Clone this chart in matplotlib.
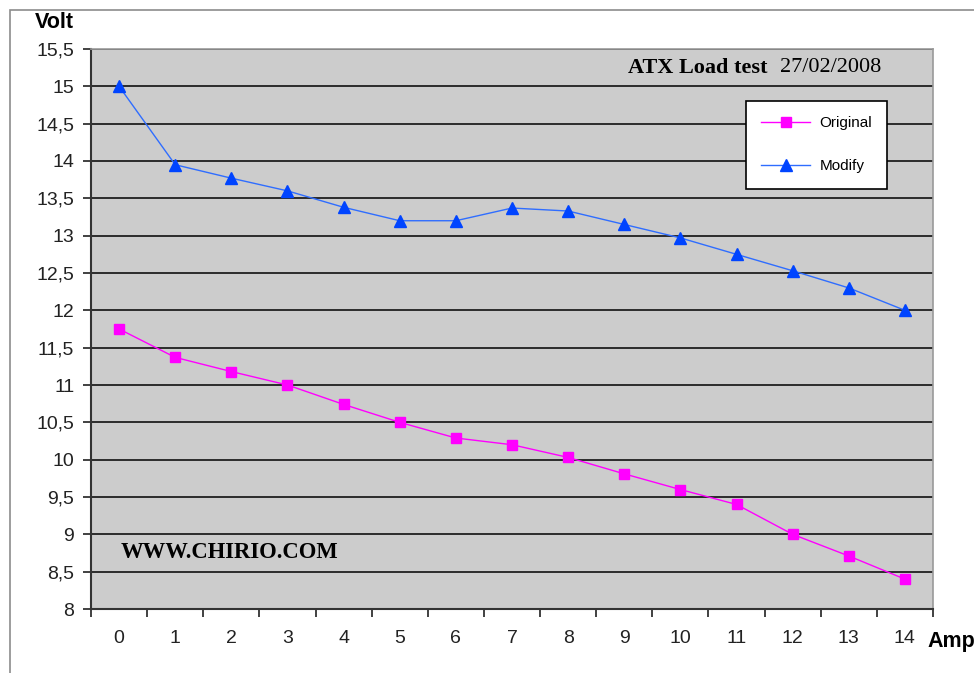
import matplotlib
matplotlib.use("Agg")
from matplotlib import pyplot as plt
from matplotlib.ticker import FuncFormatter, MultipleLocator
from matplotlib.patches import Rectangle

plt.rcParams["font.family"] = ["Liberation Sans", "DejaVu Sans"]

# data
amps = list(range(15))
original = [11.75, 11.37, 11.18, 11.0, 10.74, 10.5, 10.29, 10.2, 10.03, 9.81, 9.6, 9.4, 9.0, 8.71, 8.4]
modify = [15.0, 13.95, 13.77, 13.6, 13.38, 13.2, 13.2, 13.37, 13.33, 13.15, 12.97, 12.75, 12.53, 12.3, 12.0]

W, H = 974, 673
fig = plt.figure(figsize=(W / 100, H / 100), dpi=100)
fig.patch.set_facecolor("white")

# outer chart frame
fig.patches.append(Rectangle((10 / W, -0.1), 1.2, 1 - 10 / H + 0.1, transform=fig.transFigure,
                             fill=False, edgecolor="#8c8c8c", linewidth=1.2))

ax = fig.add_axes([91 / W, (H - 609) / H, (933 - 91) / W, (609 - 49) / H])
ax.set_facecolor("#cccccc")

ax.plot(amps, original, color="#ff00ff", linewidth=1, marker="s", markersize=7,
        markerfacecolor="#ff00ff", markeredgecolor="#ff00ff", label="Original", zorder=3)
ax.plot(amps, modify, color="#2f6dff", linewidth=1, marker="^", markersize=8,
        markerfacecolor="#0044ff", markeredgecolor="#0044ff", label="Modify", zorder=3)

ax.set_xlim(-0.5, 14.5)
ax.set_ylim(8, 15.5)

ax.yaxis.set_major_locator(MultipleLocator(0.5))
ax.yaxis.set_major_formatter(FuncFormatter(lambda v, p: ("%g" % v).replace(".", ",")))
ax.grid(axis="y", color="black", linewidth=1.1)
ax.set_axisbelow(True)

ax.set_xticks(amps)
ax.set_xticks([a - 0.5 for a in amps] + [14.5], minor=True)
ax.tick_params(axis="x", which="major", length=0, pad=15, labelsize=14, labelcolor="#222222")
ax.tick_params(axis="x", which="minor", length=6, width=1.3, color="#333333", direction="out")
ax.tick_params(axis="y", length=6, width=1.3, color="#333333", pad=6, labelsize=14, labelcolor="#222222")

for s in ["left", "bottom"]:
    ax.spines[s].set_color("#333333")
    ax.spines[s].set_linewidth(1.5)
for s in ["top", "right"]:
    ax.spines[s].set_color("#999999")
    ax.spines[s].set_linewidth(1.2)

fig.text(35 / W, 1 - 22 / H, "Volt", fontsize=15.5, fontweight="bold", va="center", ha="left")
fig.text(927 / W, 1 - 641 / H, "Amp", fontsize=15.5, fontweight="bold", va="center", ha="left")

fig.text(628 / W, 1 - 68 / H, "ATX Load test", fontsize=16, fontweight="bold", va="center",
         ha="left", family="Liberation Serif")
fig.text(780 / W, 1 - 68 / H, "27/02/2008", fontsize=16, va="center", ha="left",
         family="Liberation Serif")
fig.text(121 / W, 1 - 553 / H, "WWW.CHIRIO.COM", fontsize=16.3, fontweight="bold", va="center",
         ha="left", family="Liberation Serif")

leg = ax.legend(loc="upper left", bbox_to_anchor=(746 / W, 1 - 101 / H), bbox_transform=fig.transFigure,
                frameon=True, fancybox=False, framealpha=1, borderaxespad=0, borderpad=1.0,
                labelspacing=1.9, handlelength=3.2, handletextpad=0.6, prop={"family": "Liberation Sans", "size": 11})
leg.get_frame().set_edgecolor("black")
leg.get_frame().set_linewidth(1.2)
leg.get_frame().set_facecolor("white")

plt.savefig("out.png", dpi=100)
